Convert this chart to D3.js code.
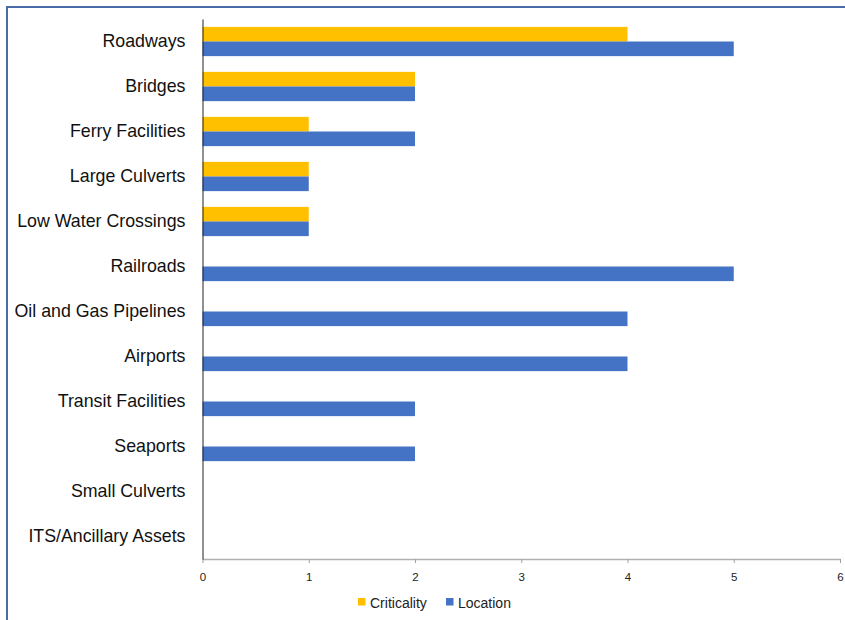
<!DOCTYPE html>
<html><head><meta charset="utf-8">
<script src="https://cdn.jsdelivr.net/npm/d3@7"></script>
<style>body{margin:0;background:#fff}svg{display:block}</style>
</head><body>
<svg id="c" width="845" height="620"></svg>
<script>
const categories = ["Roadways","Bridges","Ferry Facilities","Large Culverts","Low Water Crossings","Railroads","Oil and Gas Pipelines","Airports","Transit Facilities","Seaports","Small Culverts","ITS/Ancillary Assets"];
const criticality = [4,2,1,1,1,0,0,0,0,0,0,0];
const location_ = [5,2,2,1,1,5,4,4,2,2,0,0];
const seriesNames = ["Criticality","Location"];
const xTicks = [0,1,2,3,4,5,6];
const colors = ["#FFC000","#4472C4"];

const svg = d3.select("#c");
// frame
svg.append("rect").attr("x",7).attr("y",7).attr("width",900).attr("height",700)
  .attr("fill","none").attr("stroke","#4a6aa8").attr("stroke-width",2);

const x = d3.scaleLinear().domain([0,6]).range([202.5,840]);
const y = d3.scaleBand().domain(categories).range([19,559]).padding(0);
const barH = y.bandwidth()*0.325;

const series = [criticality, location_];
series.forEach((vals,si)=>{
  svg.append("g").selectAll("rect").data(categories).join("rect")
    .attr("x", x(0))
    .attr("y", d => y(d) + y.bandwidth()/2 - barH + si*barH)
    .attr("width", (d,i) => x(vals[i]) - x(0))
    .attr("height", barH)
    .attr("fill", colors[si]);
});

// x axis
const xa = svg.append("g").attr("transform","translate(0,559)")
  .call(d3.axisBottom(x).tickValues(xTicks).tickFormat(d3.format("d")).tickSize(4).tickSizeOuter(0).tickPadding(10));
xa.select(".domain").attr("stroke","#b0b0b0").attr("stroke-width",1.5);
xa.selectAll(".tick line").attr("stroke","#a0a0a0");
xa.selectAll("text").attr("font-family","Liberation Sans, sans-serif").attr("font-size",11.5).attr("fill","#222");

// y axis
const ya = svg.append("g").attr("transform","translate(202.5,0)")
  .call(d3.axisLeft(y).tickSize(0).tickPadding(17));
ya.select(".domain").attr("stroke","#222").attr("stroke-width",1);
ya.selectAll("text").attr("font-family","Liberation Sans, sans-serif").attr("font-size",17.8).attr("fill","#111");

// legend
const lg = svg.append("g").attr("font-family","Liberation Sans, sans-serif").attr("font-size",14).attr("fill","#222");
const lx = [358, 446];
seriesNames.forEach((n,i)=>{
  lg.append("rect").attr("x",lx[i]).attr("y",598).attr("width",7.5).attr("height",7.5).attr("fill",colors[i]);
  lg.append("text").attr("x",lx[i]+12).attr("y",607.5).text(n);
});
</script>
</body></html>
